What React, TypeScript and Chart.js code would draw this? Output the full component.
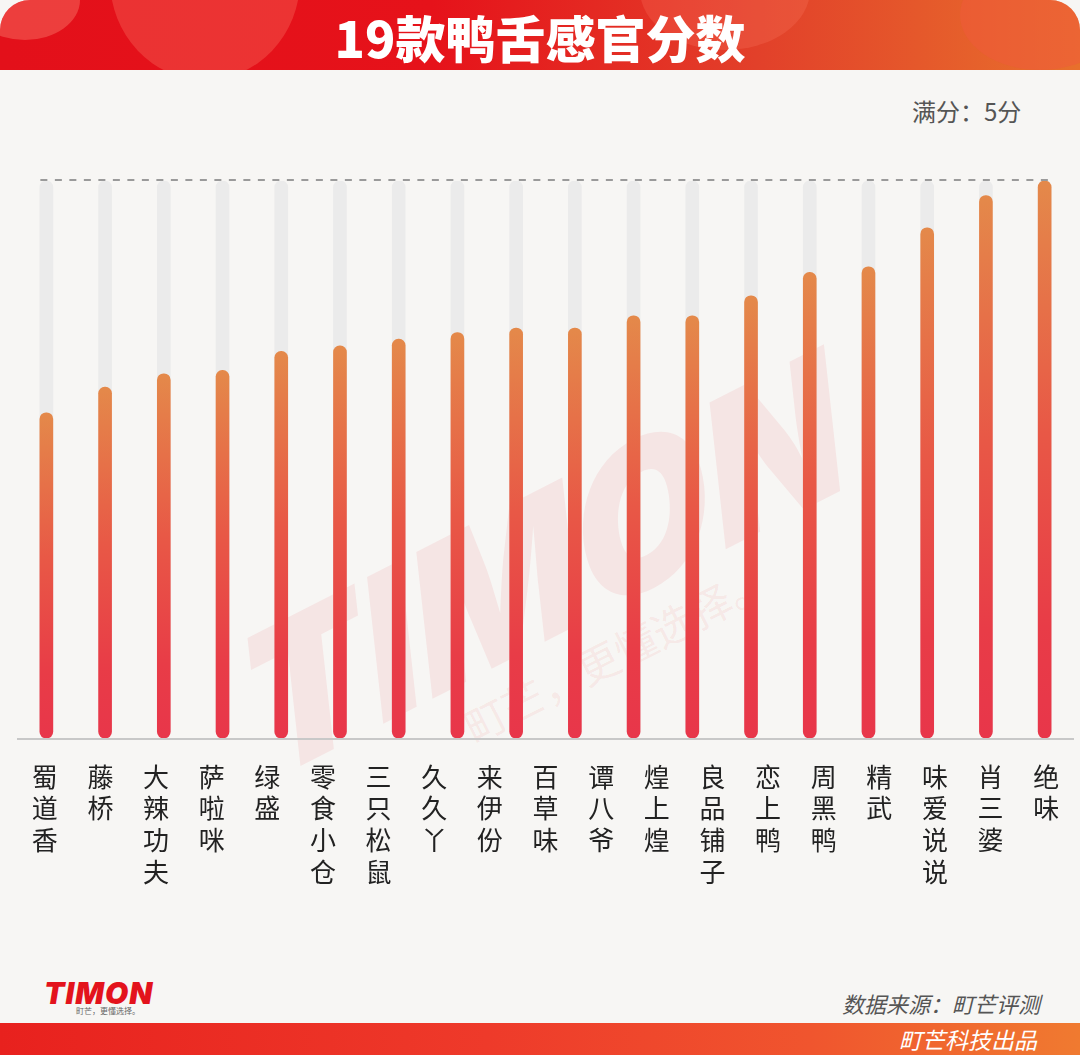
import React, { useEffect, useRef } from 'react';
import { Chart, registerables } from 'chart.js';

Chart.register(...registerables);

// ---- data ----
const titleText = '19款鸭舌感官分数';
const fullScoreNote = '满分：5分';
const categories = [
  '蜀道香', '藤桥', '大辣功夫', '萨啦咪', '绿盛', '零食小仓', '三只松鼠', '久久丫', '来伊份', '百草味',
  '谭八爷', '煌上煌', '良品铺子', '恋上鸭', '周黑鸭', '精武', '味爱说说', '肖三婆', '绝味',
];
// bars as drawn in the picture (18 bars under 19 labels)
const barSlots = ['1', '2', '3', '4', '5', '6', '7', '8', '9', '10', '11', '12', '13', '14', '15', '16', '17', '18'];
const scores = [2.92, 3.15, 3.27, 3.3, 3.47, 3.52, 3.58, 3.64, 3.68, 3.68, 3.79, 3.79, 3.97, 4.18, 4.23, 4.58, 4.87, 5.0];
const fullScore = 5;
const fullTrack = barSlots.map(() => fullScore);
const sourceText = '数据来源：町芒评测';
const producerText = '町芒科技出品';

const CJK = '"Noto Sans CJK SC", "Noto Sans", sans-serif';

const barGradient = (ctx: any) => {
  const chart = ctx.chart;
  const area = chart.chartArea;
  if (!area || ctx.type !== 'data' || !chart.scales.y) return '#e8504a';
  const yTop = chart.scales.y.getPixelForValue(ctx.raw);
  const g = chart.ctx.createLinearGradient(0, yTop, 0, area.bottom);
  g.addColorStop(0, '#e4894a');
  g.addColorStop(0.45, '#e85846');
  g.addColorStop(0.8, '#e83c47');
  g.addColorStop(1, '#e8364a');
  return g;
};

const decorPlugin = {
  id: 'decor',
  beforeDatasetsDraw(chart: any) {
    const { ctx, chartArea } = chart;
    ctx.save();
    ctx.strokeStyle = '#c8c8c8';
    ctx.lineWidth = 2;
    ctx.beginPath();
    ctx.moveTo(chartArea.left, chartArea.bottom + 1);
    ctx.lineTo(chartArea.right, chartArea.bottom + 1);
    ctx.stroke();
    ctx.restore();
  },
  afterDatasetsDraw(chart: any) {
    const { ctx, scales } = chart;
    const y = scales.y.getPixelForValue(fullScore);
    const x0 = scales.x.getPixelForValue(0) - 6;
    const x1 = scales.x.getPixelForValue(barSlots.length - 1) + 6;
    ctx.save();
    ctx.strokeStyle = '#9a9a9a';
    ctx.lineWidth = 2;
    ctx.setLineDash([7, 7.5]);
    ctx.beginPath();
    ctx.moveTo(x0, y - 1);
    ctx.lineTo(x1, y - 1);
    ctx.stroke();
    ctx.restore();
  },
};

export default function App() {
  const canvasRef = useRef<HTMLCanvasElement | null>(null);

  useEffect(() => {
    if (!canvasRef.current) return;
    const chart = new Chart(canvasRef.current, {
      type: 'bar',
      data: {
        labels: barSlots,
        datasets: [
          {
            data: scores,
            backgroundColor: barGradient,
            barThickness: 13,
            borderRadius: 7,
            borderSkipped: false,
            grouped: false,
            order: 0,
          } as any,
          {
            data: fullTrack,
            backgroundColor: '#ebebeb',
            barThickness: 13,
            borderRadius: 7,
            borderSkipped: false,
            grouped: false,
            order: 1,
          } as any,
        ],
      },
      options: {
        animation: false,
        responsive: false,
        maintainAspectRatio: false,
        layout: { padding: { left: 17, right: 6, top: 181, bottom: 0 } },
        plugins: { legend: { display: false }, tooltip: { enabled: false } },
        scales: {
          x: { type: 'category', display: false, offset: true },
          x2: {
            type: 'category',
            position: 'bottom',
            labels: categories.map((c) => c.split('')),
            offset: true,
            grid: { display: false },
            border: { display: false },
            ticks: {
              color: '#222222',
              font: { family: CJK, size: 26, lineHeight: 1.22 },
              padding: 15,
              maxRotation: 0,
              minRotation: 0,
              autoSkip: false,
            },
            afterFit: (s: any) => {
              s.height = 222;
            },
          } as any,
          y: { display: false, min: 0, max: fullScore },
        },
      },
      plugins: [decorPlugin],
    });
    return () => chart.destroy();
  }, []);

  return (
    <div
      style={{
        position: 'absolute',
        left: 0,
        top: 0,
        width: 1080,
        height: 1055,
        background: '#f7f6f4',
        overflow: 'hidden',
        fontFamily: CJK,
      }}
    >
      {/* header */}
      <div
        style={{
          position: 'absolute',
          left: 0,
          top: 0,
          width: 1080,
          height: 70,
          borderRadius: '30px 30px 0 0',
          overflow: 'hidden',
          background: 'linear-gradient(90deg, #e3101a 0%, #e6121a 40%, #e2402a 70%, #e8702c 100%)',
        }}
      >
        <div style={{ position: 'absolute', left: -30, top: -40, width: 110, height: 80, borderRadius: '50%', background: 'rgba(255,150,130,0.35)' }} />
        <div style={{ position: 'absolute', left: 110, top: -120, width: 190, height: 200, borderRadius: '50%', background: 'rgba(255,140,120,0.28)' }} />
        <div style={{ position: 'absolute', left: 640, top: -70, width: 170, height: 120, borderRadius: '50%', background: 'rgba(255,130,110,0.22)' }} />
        <div style={{ position: 'absolute', left: 960, top: -40, width: 160, height: 110, borderRadius: '50%', background: 'rgba(240,90,60,0.5)' }} />
        <div
          style={{
            position: 'absolute',
            left: 0,
            top: 0,
            width: 1080,
            height: 70,
            lineHeight: '72px',
            textAlign: 'center',
            color: '#ffffff',
            fontSize: 50,
            fontWeight: 900,
            letterSpacing: 0,
          }}
        >
          {titleText}
        </div>
      </div>

      <div style={{ position: 'absolute', left: 912, top: 95, fontSize: 24, color: '#555555', lineHeight: '32px', whiteSpace: 'nowrap' }}>
        {fullScoreNote}
      </div>

      {/* watermark */}
      <div
        style={{
          position: 'absolute',
          left: 153,
          top: 470,
          width: 780,
          textAlign: 'center',
          transform: 'rotate(-27deg) skewX(-12deg)',
          fontFamily: 'Inter, "Liberation Sans", sans-serif',
          fontStyle: 'italic',
          fontWeight: 900,
          fontSize: 190,
          lineHeight: '190px',
          color: 'rgba(232,40,50,0.08)',
          whiteSpace: 'nowrap',
        }}
      >
        TIMON
      </div>
      <div
        style={{
          position: 'absolute',
          left: 426,
          top: 627,
          width: 380,
          textAlign: 'center',
          transform: 'rotate(-27deg)',
          fontSize: 42,
          lineHeight: '50px',
          color: 'rgba(232,40,50,0.08)',
          whiteSpace: 'nowrap',
        }}
      >
        町芒，更懂选择。
      </div>

      <canvas ref={canvasRef} width={1080} height={960} style={{ position: 'absolute', left: 0, top: 0, display: 'block' }} />

      {/* footer logo */}
      <div
        style={{
          position: 'absolute',
          left: 44,
          top: 977,
          fontFamily: 'Inter, "Liberation Sans", sans-serif',
          fontStyle: 'italic',
          fontWeight: 900,
          fontSize: 30,
          lineHeight: '32px',
          color: '#e3131c',
          letterSpacing: 1,
        }}
      >
        TIMON
      </div>
      <div style={{ position: 'absolute', left: 76, top: 1006, fontSize: 8, lineHeight: '10px', color: '#666666', whiteSpace: 'nowrap' }}>
        町芒，更懂选择。
      </div>

      <div
        style={{
          position: 'absolute',
          right: 40,
          top: 989,
          fontSize: 22,
          lineHeight: '28px',
          fontStyle: 'italic',
          color: '#555555',
          whiteSpace: 'nowrap',
        }}
      >
        {sourceText}
      </div>

      {/* bottom band */}
      <div
        style={{
          position: 'absolute',
          left: 0,
          top: 1023,
          width: 1080,
          height: 32,
          background: 'linear-gradient(90deg, #e8211e 0%, #ee3a2a 45%, #f0552e 75%, #f07a30 100%)',
        }}
      >
        <div
          style={{
            position: 'absolute',
            right: 43,
            top: 0,
            fontSize: 23,
            lineHeight: '32px',
            fontStyle: 'italic',
            color: '#ffffff',
            whiteSpace: 'nowrap',
          }}
        >
          {producerText}
        </div>
      </div>
    </div>
  );
}
